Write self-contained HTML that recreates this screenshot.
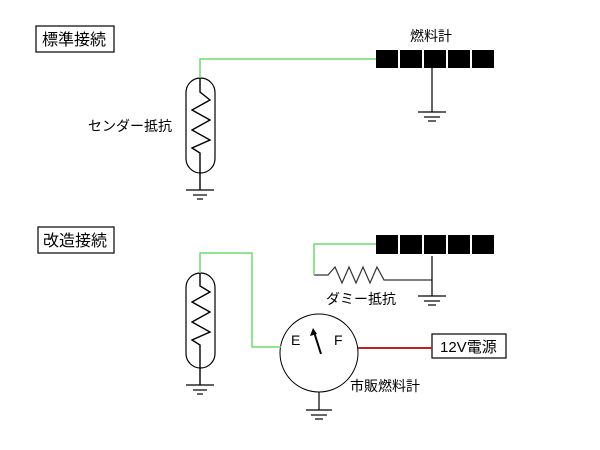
<!DOCTYPE html><html><head><meta charset="utf-8"><style>body{margin:0;background:#fff}svg{display:block}text{font-family:"Liberation Sans","Noto Sans CJK JP",sans-serif;fill:#000}</style></head><body>
<svg width="600" height="450" viewBox="0 0 600 450" xmlns="http://www.w3.org/2000/svg">
<g fill="none" stroke="#000" stroke-width="1.2">
<rect x="36" y="26" width="78" height="26"/>
<rect x="38" y="227" width="76" height="26"/>
<rect x="186" y="78" width="29" height="95" rx="14.5"/>
<polyline points="200,78 200,92 210,100 192,110 210,120 192,130 210,140 192,148 200,153 200,190" stroke-width="1.4"/>
<line x1="186" y1="190" x2="214" y2="190"/><line x1="193" y1="195" x2="207" y2="195"/><line x1="197" y1="199" x2="203" y2="199"/>
<line x1="432" y1="68" x2="432" y2="112"/>
<line x1="418" y1="112" x2="446" y2="112"/><line x1="424" y1="117" x2="440" y2="117"/><line x1="428" y1="121" x2="436" y2="121"/>
<rect x="186" y="273" width="29" height="95" rx="14.5"/>
<polyline points="200,273 200,286 210,292 192,302 210,312 192,322 210,332 192,340 200,345 200,385" stroke-width="1.4"/>
<line x1="186" y1="385" x2="214" y2="385"/><line x1="193" y1="390" x2="207" y2="390"/><line x1="197" y1="394" x2="203" y2="394"/>
<polyline points="314,275 328,275 335,267 342,283 349,267 356,283 363,267 370,283 377,267 384,280 432,280" stroke="#333"/>
<line x1="432" y1="256" x2="432" y2="296"/>
<line x1="418" y1="296" x2="446" y2="296"/><line x1="424" y1="301" x2="440" y2="301"/><line x1="428" y1="305" x2="436" y2="305"/>
<circle cx="319" cy="353" r="39" stroke-width="1"/>
<line x1="319" y1="392" x2="319" y2="410"/>
<line x1="306" y1="410" x2="332" y2="410"/><line x1="311" y1="415" x2="327" y2="415"/><line x1="315" y1="419" x2="323" y2="419"/>
<line x1="321" y1="354" x2="314" y2="332" stroke-width="2"/>
<rect x="432" y="334" width="74" height="24"/>
</g>
<polygon points="313,328 310,336 317,334" fill="#000"/>
<g fill="none" stroke="#6fdc6f" stroke-width="1.5">
<polyline points="200,78 200,59 376,59"/>
<polyline points="200,273 200,253 252,253 252,347 281,347"/>
<polyline points="376,244 314,244 314,275"/>
</g>
<line x1="358" y1="348" x2="432" y2="348" stroke="#b22" stroke-width="2"/>
<g fill="#000">
<rect x="376" y="50" width="22" height="18"/><rect x="400" y="50" width="22" height="18"/><rect x="424" y="50" width="22" height="18"/><rect x="448" y="50" width="22" height="18"/><rect x="472" y="50" width="22" height="18"/>
<rect x="376" y="235" width="22" height="19"/><rect x="400" y="235" width="22" height="19"/><rect x="424" y="235" width="22" height="19"/><rect x="448" y="235" width="22" height="19"/><rect x="472" y="235" width="22" height="19"/>
</g>
<text x="42" y="45" font-size="16">標準接続</text>
<text x="43" y="246" font-size="16">改造接続</text>
<text x="410" y="41" font-size="14">燃料計</text>
<text x="88" y="131" font-size="14">センダー抵抗</text>
<text x="326" y="304" font-size="14">ダミー抵抗</text>
<text x="291" y="345" font-size="14">E</text>
<text x="334" y="345" font-size="14">F</text>
<text x="350" y="391" font-size="14">市販燃料計</text>
<text x="440" y="352" font-size="15">12V電源</text>
</svg></body></html>
